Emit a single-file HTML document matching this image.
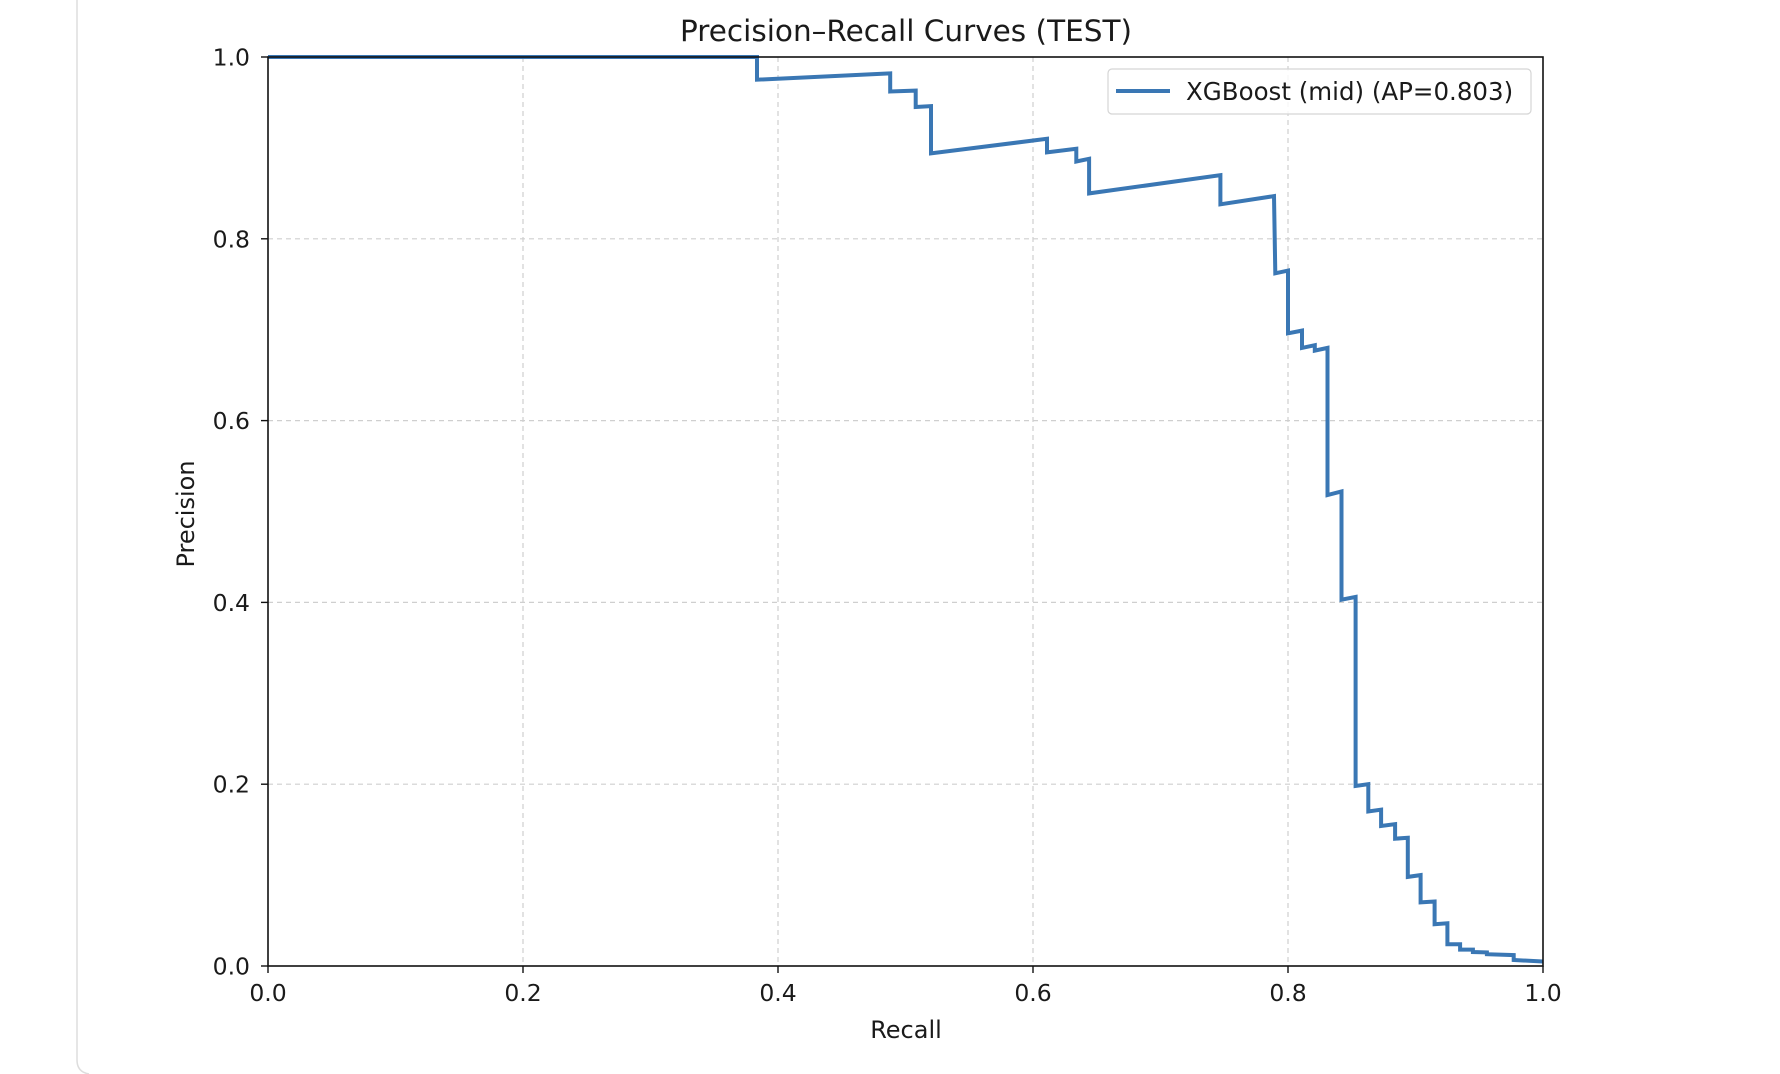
<!DOCTYPE html>
<html><head><meta charset="utf-8"><style>
html,body{margin:0;padding:0;background:#fff;}
#wrap{position:relative;width:1780px;height:1074px;overflow:hidden;}
svg text{font-family:"DejaVu Sans","Liberation Sans",sans-serif;fill:#1a1a1a;}
</style></head><body>
<div id="wrap">
<svg id="chart" width="1780" height="1074">
  <path d="M77 0 V1060 Q77 1072 89 1074" fill="none" stroke="#dddddd" stroke-width="1.5"/>
  <g id="grid"></g>
  <g id="series"></g>
  <rect x="268" y="57" width="1275" height="909" fill="none" stroke="#111" stroke-width="1.6"/>
  <g id="ticks"></g>
  <text x="906" y="41" font-size="29.5" text-anchor="middle">Precision–Recall Curves (TEST)</text>
  <text x="906" y="1038" font-size="24" text-anchor="middle">Recall</text>
  <text x="0" y="0" font-size="24" text-anchor="middle" transform="translate(194,514) rotate(-90)">Precision</text>
  <g>
    <rect x="1108" y="69" width="423" height="45" rx="4" fill="#fff" fill-opacity="0.8" stroke="#d5d5d5" stroke-width="1.2"/>
    <line x1="1116" y1="91" x2="1170" y2="91" stroke="#3a77b4" stroke-width="4"/>
    <text x="1186" y="100" font-size="24.5">XGBoost (mid) (AP=0.803)</text>
  </g>
</svg>
</div>
<script>
const recall = [0,0.3835,0.3835,0.488,0.488,0.508,0.508,0.520,0.520,0.611,0.611,0.634,0.634,0.644,0.644,0.747,0.747,0.789,0.790,0.800,0.800,0.811,0.811,0.821,0.821,0.831,0.831,0.842,0.842,0.853,0.853,0.863,0.863,0.873,0.873,0.884,0.884,0.894,0.894,0.904,0.904,0.915,0.915,0.925,0.925,0.935,0.935,0.945,0.945,0.956,0.956,0.977,0.977,1.0];
const precision = [1.0,1.0,0.975,0.982,0.962,0.963,0.945,0.946,0.894,0.910,0.895,0.899,0.885,0.888,0.850,0.870,0.838,0.847,0.762,0.765,0.696,0.699,0.680,0.683,0.677,0.680,0.518,0.522,0.403,0.406,0.198,0.200,0.170,0.172,0.154,0.156,0.140,0.141,0.098,0.100,0.070,0.071,0.046,0.047,0.024,0.024,0.018,0.018,0.0154,0.015,0.013,0.012,0.0066,0.005];
const xTicks = [0,0.2,0.4,0.6,0.8,1.0];
const yTicks = [0,0.2,0.4,0.6,0.8,1.0];
const xTickLabels = ["0.0","0.2","0.4","0.6","0.8","1.0"];
const yTickLabels = ["0.0","0.2","0.4","0.6","0.8","1.0"];

const X0=268,X1=1543,Y0=966,Y1=57;
function xs(v){return X0+(X1-X0)*v;}
function ys(v){return Y0-(Y0-Y1)*v;}
const NS="http://www.w3.org/2000/svg";
const grid=document.getElementById('grid'),ticks=document.getElementById('ticks'),series=document.getElementById('series');

xTicks.forEach((t,i)=>{
  const x=xs(t);
  if(t>0&&t<1){
    const g=document.createElementNS(NS,'line');
    g.setAttribute('x1',x);g.setAttribute('x2',x);g.setAttribute('y1',Y1);g.setAttribute('y2',Y0);
    g.setAttribute('stroke','#cfcfcf');g.setAttribute('stroke-width','1.2');g.setAttribute('stroke-dasharray','5,4');
    
    
    grid.appendChild(g);
  }
  const tk=document.createElementNS(NS,'line');
  tk.setAttribute('x1',x);tk.setAttribute('x2',x);tk.setAttribute('y1',Y0);tk.setAttribute('y2',Y0+7);
  tk.setAttribute('stroke','#111');tk.setAttribute('stroke-width','1.4');
  
  
  ticks.appendChild(tk);
  const tx=document.createElementNS(NS,'text');
  tx.setAttribute('x',x);tx.setAttribute('y',1001);tx.setAttribute('font-size','23.5');tx.setAttribute('text-anchor','middle');
  tx.textContent=xTickLabels[i];
  
  
  ticks.appendChild(tx);
});
yTicks.forEach((t,i)=>{
  const y=ys(t);
  if(t>0&&t<1){
    const g=document.createElementNS(NS,'line');
    g.setAttribute('x1',X0);g.setAttribute('x2',X1);g.setAttribute('y1',y);g.setAttribute('y2',y);
    g.setAttribute('stroke','#cfcfcf');g.setAttribute('stroke-width','1.2');g.setAttribute('stroke-dasharray','5,4');
    
    
    grid.appendChild(g);
  }
  const tk=document.createElementNS(NS,'line');
  tk.setAttribute('x1',X0-7);tk.setAttribute('x2',X0);tk.setAttribute('y1',y);tk.setAttribute('y2',y);
  tk.setAttribute('stroke','#111');tk.setAttribute('stroke-width','1.4');
  
  
  ticks.appendChild(tk);
  const tx=document.createElementNS(NS,'text');
  tx.setAttribute('x',250);tx.setAttribute('y',y+8.5);tx.setAttribute('font-size','23.5');tx.setAttribute('text-anchor','end');
  tx.textContent=yTickLabels[i];
  
  
  ticks.appendChild(tx);
});
const pts=recall.map((r,i)=>xs(r).toFixed(1)+','+ys(precision[i]).toFixed(1)).join(' ');
const pl=document.createElementNS(NS,'polyline');
pl.setAttribute('points',pts);pl.setAttribute('fill','none');pl.setAttribute('stroke','#3a77b4');
pl.setAttribute('stroke-width','4');pl.setAttribute('stroke-linejoin','miter');


series.appendChild(pl);
</script>
</body></html>
